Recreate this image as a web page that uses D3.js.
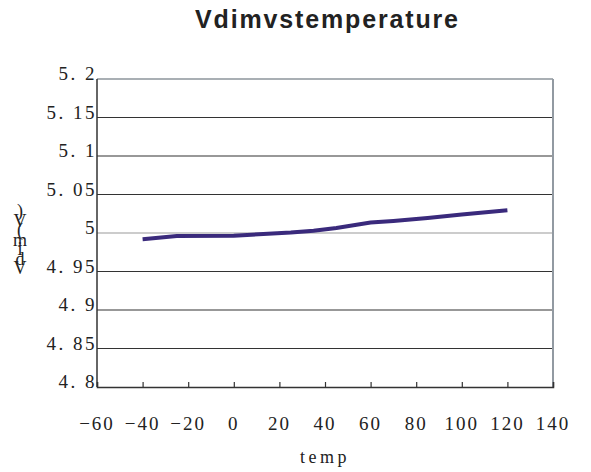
<!DOCTYPE html>
<html>
<head>
<meta charset="utf-8">
<script src="https://cdn.jsdelivr.net/npm/d3@7"></script>
<style>
  body { margin: 0; background: #fff; }
  text { font-family: "Liberation Serif", "DejaVu Serif", serif; fill: #222; }
</style>
</head>
<body>
<div id="chart"></div>
<script>
// data
const temps = [-40, -25, 0, 15, 25, 35, 45, 60, 70, 85, 100, 120];
const vdim = [4.992, 4.996, 4.9965, 4.999, 5.0006, 5.003, 5.0065, 5.0136, 5.0156, 5.0195, 5.024, 5.0295];
const xTicks = [-60, -40, -20, 0, 20, 40, 60, 80, 100, 120, 140];
const yTicks = [4.8, 4.85, 4.9, 4.95, 5, 5.05, 5.1, 5.15, 5.2];
const title = "Vdimvstemperature";
const xTitle = "temp";
const yTitle = "Vdim(V)";

const W = 591, H = 472;
const margin = {top: 79, right: 38, bottom: 85, left: 97};
const width = W - margin.left - margin.right;
const height = H - margin.top - margin.bottom;

const svg = d3.select("#chart")
  .append("svg")
  .attr("width", W)
  .attr("height", H);

const g = svg.append("g")
  .attr("transform", `translate(${margin.left},${margin.top})`);

// scales
const x = d3.scaleLinear().domain([-60, 140]).range([0, width]);
const y = d3.scaleLinear().domain([4.8, 5.2]).range([height, 0]);

// gridlines
g.selectAll(".grid")
  .data(yTicks.filter(d => d > 4.8))
  .enter()
  .append("line")
  .attr("x1", 0)
  .attr("x2", width)
  .attr("y1", d => y(d))
  .attr("y2", d => y(d))
  .attr("stroke", d => d === 5.2 ? "#8d949b" : (d === 5 ? "#9a9a9a" : "#333"))
  .attr("stroke-width", d => d === 5.2 ? 1.5 : 1.2);

// right border
g.append("line")
  .attr("x1", width).attr("x2", width)
  .attr("y1", 0).attr("y2", height)
  .attr("stroke", "#929aa2")
  .attr("stroke-width", 2);

// x axis with inward ticks
const xAxis = g.append("g")
  .attr("transform", `translate(0,${height})`)
  .call(d3.axisBottom(x).tickValues(xTicks).tickSize(-5).tickFormat(""));
xAxis.select(".domain").attr("stroke", "#333").attr("stroke-width", 1.5);
xAxis.selectAll(".tick line").attr("stroke", "#333").attr("stroke-width", 1.2);

// y axis line
g.append("line")
  .attr("x1", 0).attr("x2", 0)
  .attr("y1", 0).attr("y2", height)
  .attr("stroke", "#333")
  .attr("stroke-width", 1.5);

// x tick labels
g.selectAll(".xlab")
  .data(xTicks)
  .enter()
  .append("text")
  .attr("x", d => x(d))
  .attr("y", height + 43)
  .attr("text-anchor", "middle")
  .style("font-size", "19px")
  .style("letter-spacing", "2px")
  .text(d => d3.format("")(d));

// y tick labels
g.selectAll(".ylab")
  .data(yTicks)
  .enter()
  .append("text")
  .attr("x", 0)
  .attr("y", d => y(d) + 1)
  .attr("text-anchor", "end")
  .style("font-size", "19px")
  .style("letter-spacing", "2.5px")
  .text(d => String(d).replace(".", ". "));

// line
const line = d3.line()
  .x((d, i) => x(temps[i]))
  .y(d => y(d));

g.append("path")
  .datum(vdim)
  .attr("d", line)
  .attr("fill", "none")
  .attr("stroke", "#3a2a7c")
  .attr("stroke-width", 4);

// title
svg.append("text")
  .attr("x", 195)
  .attr("y", 28)
  .attr("textLength", 263)
  .attr("lengthAdjust", "spacing")
  .style("font-family", "'Liberation Sans', Arial, sans-serif")
  .style("font-weight", "bold")
  .style("font-size", "25px")
  .text(title);

// x title
svg.append("text")
  .attr("x", margin.left + width / 2)
  .attr("y", 463)
  .attr("text-anchor", "middle")
  .style("font-size", "18px")
  .style("letter-spacing", "3.5px")
  .text(xTitle);

// y title: upright stacked characters, read bottom to top
svg.selectAll(".ychar")
  .data(yTitle.split(""))
  .enter()
  .append("text")
  .attr("x", 20)
  .attr("y", (d, i) => 274 - i * 9.5)
  .attr("text-anchor", "middle")
  .style("font-size", "18px")
  .text(d => d);
</script>
</body>
</html>
